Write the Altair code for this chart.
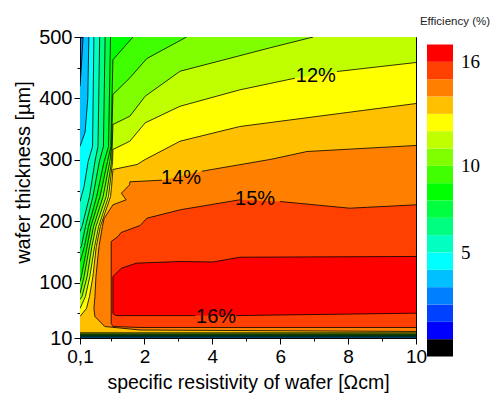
import altair as alt
import pandas as pd

# Contour lines: specific resistivity (Ωcm) and wafer thickness (µm)
L3_x = [0.19, 0.14, 0.10]
L3_t = [500, 452, 420]
L4_x = [0.36, 0.33, 0.25, 0.10]
L4_t = [500, 400, 345, 322]
L5_x = [0.51, 0.47, 0.34, 0.22, 0.10]
L5_t = [500, 321.7, 297.3, 256.6, 232.2]
L6_x = [0.68, 0.63, 0.54, 0.38, 0.16, 0.10]
L6_t = [500, 321.7, 297.3, 240.3, 191.5, 183.4]
L7_x = [0.84, 0.79, 0.67, 0.48, 0.26, 0.14, 0.10]
L7_t = [500, 321.7, 297.3, 240.3, 191.5, 159.0, 155.7]
L8_x = [1.00, 0.94, 0.81, 0.59, 0.35, 0.23, 0.10]
L8_t = [500, 321.7, 297.3, 240.3, 191.5, 159.0, 134.5]
L9_x = [1.66, 1.07, 1.01, 0.91, 0.69, 0.42, 0.31, 0.14, 0.10]
L9_t = [500, 462.9, 321.7, 297.3, 240.3, 191.5, 159.0, 110.1, 102.0]
L10_x = [3.24, 2.07, 1.57, 1.07, 1.03, 0.98, 0.78, 0.50, 0.38, 0.22, 0.10]
L10_t = [500, 465.0, 433.6, 406.4, 321.7, 297.3, 240.3, 191.5, 159.0, 110.1, 82.4]
L11_x = [6.97, 5.70, 3.05, 2.02, 1.57, 1.07, 1.05, 1.03, 0.87, 0.57, 0.45, 0.31, 0.16, 0.10]
L11_t = [500, 482.4, 444.3, 403.6, 371.1, 357.6, 321.7, 297.3, 240.3, 191.5, 159.0, 110.1, 77.6, 72.7]
L12_x = [10, 7.67, 6.43, 4.81, 3.05, 2.02, 1.57, 1.07, 1.06, 0.94, 0.65, 0.53, 0.39, 0.26, 0.10]
L12_t = [458.5, 443.8, 432.9, 414.0, 387.3, 360.3, 330.4, 316.9, 297.3, 240.3, 191.5, 159.0, 110.1, 77.6, 58.0]
L13_x = [10, 4.81, 3.05, 2.02, 1.78, 1.07, 1.03, 1.00, 0.70, 0.58, 0.48, 0.38, 0.29, 0.10]
L13_t = [391.7, 354.3, 330.4, 300.6, 292.4, 284.3, 256.6, 240.3, 191.5, 159.0, 110.1, 77.6, 58.0, 45.0]
L14_x = [10, 6.79, 5.70, 3.69, 2.52, 1.57, 1.56, 1.32, 1.46, 1.07, 0.81, 0.76, 0.66, 0.57,
         0.54, 0.51, 0.54, 0.83, 1.87, 10]
L14_t = [323.4, 313.6, 300.6, 281.5, 266.9, 264.3, 259.4, 245.7, 235.0, 226.8, 204.6, 191.5,
         159.0, 110.1, 77.6, 58.0, 45.0, 28.7, 23.0, 20.6]
L15_x = [10, 1.87, 1.07, 1.02, 1.02, 1.22, 1.31, 1.87, 2.07, 3.05, 4.81, 5.99, 8.05, 10]
L15_t = [27.1, 27.1, 28.7, 33.6, 167.1, 175.2, 181.7, 193.1, 205.0, 218.7, 235.0, 232.2, 221.3, 226.8]
L16_x = [10, 4.81, 4.02, 3.05, 1.76, 1.32, 1.07, 1.07, 1.16, 3.5, 4.7, 10]
L16_t = [142.7, 141.5, 133.7, 134.5, 131.8, 123.6, 110.1, 49.9, 46.5, 46.5, 46.5, 50.4]

# thickness where each low level runs along the bottom edge
bottom_t = {3: 11.0, 4: 11.7, 5: 12.4, 6: 13.1, 7: 13.8, 8: 14.5, 9: 15.2,
            10: 16.0, 11: 16.8, 12: 17.8, 13: 19.0}

levels = [3, 4, 5, 6, 7, 8, 9, 10, 11, 12, 13, 14, 15, 16]
line_x = {3: L3_x, 4: L4_x, 5: L5_x, 6: L6_x, 7: L7_x, 8: L8_x, 9: L9_x, 10: L10_x,
          11: L11_x, 12: L12_x, 13: L13_x, 14: L14_x, 15: L15_x, 16: L16_x}
line_t = {3: L3_t, 4: L4_t, 5: L5_t, 6: L6_t, 7: L7_t, 8: L8_t, 9: L9_t, 10: L10_t,
          11: L11_t, 12: L12_t, 13: L13_t, 14: L14_t, 15: L15_t, 16: L16_t}
# gaps in the lines where the contour labels sit
breaks = {12: [1], 14: [3], 15: [10], 16: [9]}

# colour of the band above each level (band [L, L+1))
band_colors = {3: "#00C0FF", 4: "#00FFFF", 5: "#00FFC0", 6: "#00FF80", 7: "#00FF40",
               8: "#00FF00", 9: "#40FF00", 10: "#80FF00", 11: "#C0FF00", 12: "#FFFF00",
               13: "#FFC000", 14: "#FF8000", 15: "#FF4000", 16: "#FF0000"}
base_color = "#0080FF"

# colour bar: 18 bins from -1 to 17
cbar_lo = list(range(-1, 17))
cbar_colors = ["#000000", "#0000FF", "#0040FF", "#0080FF", "#00C0FF", "#00FFFF", "#00FFC0",
               "#00FF80", "#00FF40", "#00FF00", "#40FF00", "#80FF00", "#C0FF00", "#FFFF00",
               "#FFC000", "#FF8000", "#FF4000", "#FF0000"]
cbar_ticks = [5, 10, 16]

label_text = ["12%", "14%", "15%", "16%"]
label_x = [7.05, 3.08, 5.26, 4.11]
label_t = [437.3, 271.0, 235.5, 45.0]

# ---------- build tables ----------
poly_rows, seg_rows, bot_rows = [], [], []
for L in levels:
    xs, ts = list(line_x[L]), list(line_t[L])
    if L <= 11:
        px, pt = xs + [0.1, 10, 10], ts + [bottom_t[L], bottom_t[L], 500]
    elif L <= 13:
        px, pt = xs + [0.1, 10], ts + [bottom_t[L], bottom_t[L]]
    else:
        px, pt = xs, ts
    for i, (a, b) in enumerate(zip(px, pt)):
        poly_rows.append({"level": L, "idx": i, "x": a, "t": b})
    seg = 0
    for i, (a, b) in enumerate(zip(xs, ts)):
        if i > 0 and (i - 1) in breaks.get(L, []):
            seg += 1
        seg_rows.append({"seg": f"{L}-{seg}", "idx": i, "x": a, "t": b})
    if L in bottom_t:
        for i, a in enumerate([0.1, 10]):
            bot_rows.append({"seg": f"{L}-b", "idx": i, "x": a, "t": bottom_t[L]})

poly_df = pd.DataFrame(poly_rows)
seg_df = pd.DataFrame(seg_rows)
bot_df = pd.DataFrame(bot_rows)
lab_df = pd.DataFrame({"x": label_x, "t": label_t, "text": label_text})
cbar_df = pd.DataFrame({"lo": cbar_lo, "hi": [v + 1 for v in cbar_lo], "col": cbar_colors})
ctick_df = pd.DataFrame({"v": cbar_ticks, "lab": [str(v) for v in cbar_ticks]})

FONT = "Liberation Sans"
X = alt.X("x:Q", scale=alt.Scale(domain=[0.1, 10], nice=False, zero=False),
          axis=alt.Axis(values=[0.1, 1, 2, 3, 4, 5, 6, 7, 8, 9, 10],
                        labelExpr="datum.value == 0.1 ? '0,1' : (datum.value % 2 == 0 ? datum.label : '')",
                        tickSize={"condition": {"test": "datum.value % 2 == 1", "value": 3}, "value": 6},
                        title="specific resistivity of wafer [Ωcm]", titleY=50,
                        titleBaseline="alphabetic", labelPadding=3, labelFlush=False,
                        labelOverlap=False, grid=False, labelFontSize=19, titleFontSize=19.5))
Y = alt.Y("t:Q", scale=alt.Scale(domain=[10, 500], nice=False, zero=False),
          axis=alt.Axis(values=[10, 50, 100, 150, 200, 250, 300, 350, 400, 450, 500],
                        labelExpr="datum.value % 100 == 50 ? '' : datum.label",
                        tickSize={"condition": {"test": "datum.value % 100 == 50", "value": 3}, "value": 6},
                        title="wafer thickness [µm]", titleX=-57, titleY=135,
                        titleBaseline="middle", labelPadding=2, labelOverlap=False, grid=False))

fills = []
for L in levels:
    fills.append(
        alt.Chart(poly_df).transform_filter(alt.datum.level == L)
        .mark_line(filled=True, color=band_colors[L], strokeWidth=0, clip=True)
        .encode(x=X, y=Y, order=alt.Order("idx:Q"))
    )

lines = alt.Chart(seg_df).mark_line(color="black", strokeWidth=0.8, clip=True).encode(
    x=X, y=Y, detail="seg:N", order=alt.Order("idx:Q"))
bottom_lines = alt.Chart(bot_df).mark_line(color="black", strokeWidth=0.55, clip=True).encode(
    x=X, y=Y, detail="seg:N", order=alt.Order("idx:Q"))

labels = alt.Chart(lab_df).mark_text(font=FONT, fontSize=20, color="black").encode(
    x=X, y=Y, text="text:N")

main = alt.layer(*fills, lines, bottom_lines, labels)

CY = alt.Scale(domain=[-1, 17], range=[319.5, 7.5])
cbar = alt.Chart(cbar_df).mark_rect().encode(
    x=alt.value(347), x2=alt.value(373),
    y=alt.Y("lo:Q", scale=CY, axis=None), y2="hi:Q",
    color=alt.Color("col:N", scale=None))
cticks = alt.Chart(ctick_df).mark_text(font="Liberation Serif", fontSize=19, align="left",
                                       baseline="middle", color="black").encode(
    x=alt.value(381), y=alt.Y("v:Q", scale=CY, axis=None), text="lab:N")
ctitle = alt.Chart(pd.DataFrame({"t": ["Efficiency (%)"]})).mark_text(
    font=FONT, fontSize=11.5, color="#222222", align="center", baseline="middle").encode(
    x=alt.value(375), y=alt.value(-15), text="t:N")
cb = alt.layer(cbar, cticks, ctitle)

chart = alt.layer(main, cb).resolve_scale(y="independent").properties(
    width=336, height=301,
    padding={"left": 72, "top": 29, "right": 78, "bottom": 55},
    autosize=alt.AutoSizeParams(type="none"),
).configure_view(stroke="black", strokeWidth=1, fill=base_color).configure_axis(
    labelFont=FONT, labelFontSize=20, labelColor="black", titleFont=FONT,
    titleFontSize=20, titleFontWeight="normal", titleColor="black",
    domainColor="black", tickColor="black", domainWidth=1, tickWidth=1)

chart.save("out.html", embed_options={"renderer": "svg", "actions": False})
